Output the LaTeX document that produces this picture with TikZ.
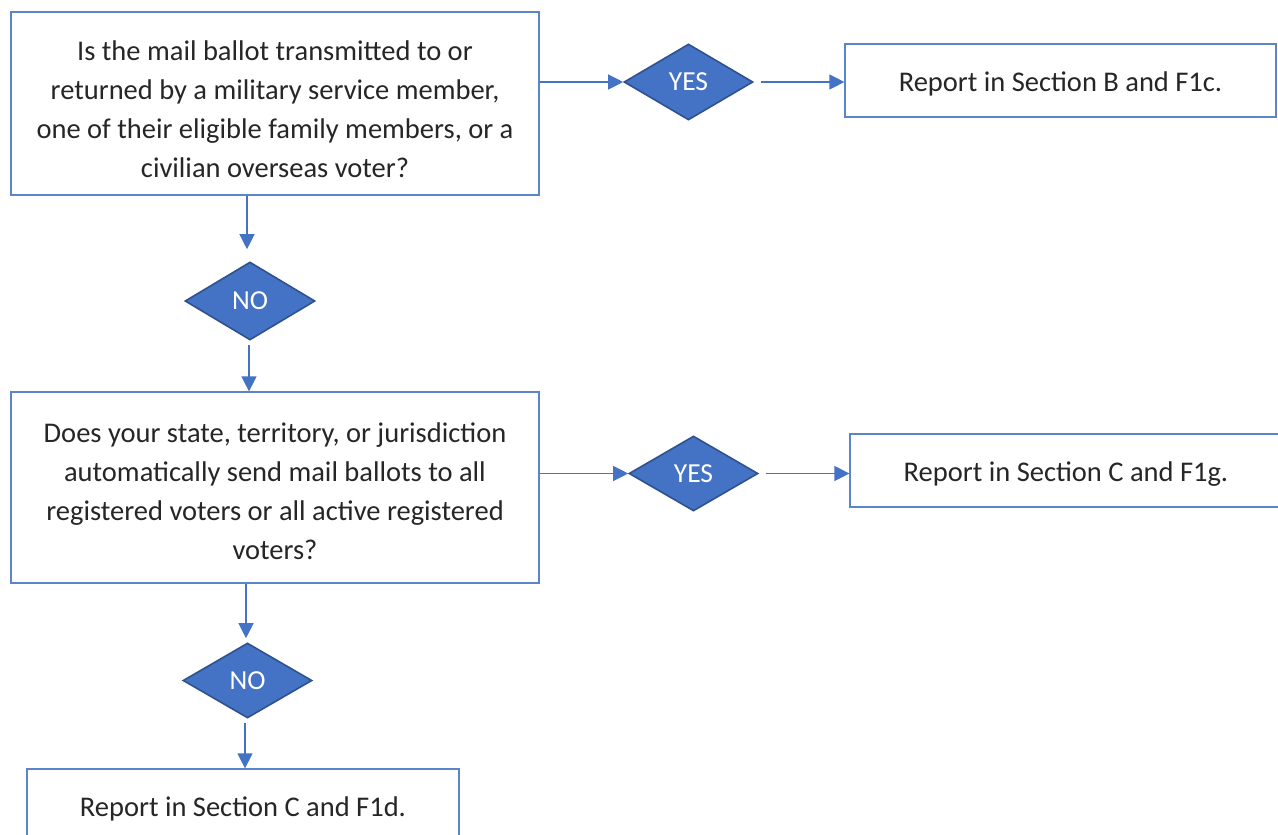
\documentclass[tikz,border=0pt]{standalone}
\usepackage{fontspec}
\setmainfont{Carlito}
\usetikzlibrary{shapes.geometric,arrows.meta}

\definecolor{flowblue}{HTML}{4472C4}
\definecolor{flowedge}{HTML}{2F528F}
\definecolor{boxedge}{HTML}{5B84CC}
\definecolor{inktext}{HTML}{262626}

\tikzset{
	question/.style={draw=boxedge, line width=1.2pt, rectangle, inner sep=0pt},
	qtext/.style={align=center, text=inktext, inner sep=0pt,
		font=\fontsize{28.5}{39}\selectfont},
	answer/.style={draw=flowedge, line width=1.6pt, fill=flowblue, diamond,
		inner sep=0pt, text=white, font=\fontsize{27.5}{30}\selectfont},
	report/.style={draw=boxedge, line width=1.2pt, rectangle,
		text=inktext, inner sep=0pt, text height=28pt, text depth=6pt,
		font=\fontsize{28.5}{34}\selectfont},
	arr/.style={draw=flowblue, line width=1.2pt,
		-{Triangle[length=15pt,width=15pt]}}
}

\begin{document}
\begin{tikzpicture}[x=1pt,y=-1pt]

\clip (0,0) rectangle (1278,835);
\fill [white] (0,0) rectangle (1278,835);

% first question
\node [question, minimum width=528pt, minimum height=183pt] (q1) at (275,103.5) {};
\node [qtext] (q1text) at ([yshift=-5.5pt]q1.center)
	{Is the mail ballot transmitted to or\\
	returned by a military service member,\\
	one of their eligible family members, or a\\
	civilian overseas voter?};
\node [answer, minimum width=129pt, minimum height=76pt] (yes1) at (688.5,82) {YES};
\node [report, minimum width=431pt, minimum height=73pt] (rb) at (1060.5,80.5)
	{Report in Section B and F1c.};
\node [answer, minimum width=130pt, minimum height=78pt] (no1) at (250,301) {NO};

% second question
\node [question, minimum width=528pt, minimum height=191pt] (q2) at (275,487.5) {};
\node [qtext] (q2text) at ([yshift=-4pt]q2.center)
	{Does your state, territory, or jurisdiction\\
	automatically send mail ballots to all\\
	registered voters or all active registered\\
	voters?};
\node [answer, minimum width=129pt, minimum height=75pt] (yes2) at (693.5,473.5) {YES};
\node [report, minimum width=432pt, minimum height=73pt] (rc) at (1066,470.5)
	{Report in Section C and F1g.};
\node [answer, minimum width=129pt, minimum height=75pt] (no2) at (247.5,680.5) {NO};
\node [report, minimum width=432pt, minimum height=72pt] (rd) at (243,805)
	{Report in Section C and F1d.};

% yes branches
\draw [arr] (q1.east |- yes1) -- (yes1.west);
\draw [arr, shorten <=7pt] (yes1.east) -- (rb.west |- yes1);
\draw [arr] (q2.east |- yes2) -- (yes2.west);
\draw [arr, shorten <=7pt] (yes2.east) -- (rc.west |- yes2);

% no branches
\draw [arr, shorten >=12pt] ([xshift=-3pt]no1.north |- q1.south) -- ([xshift=-3pt]no1.north);
\draw [arr, shorten <=4pt] ([xshift=-1pt]no1.south) -- ([xshift=-1pt]no1.south |- q2.north);
\draw [arr, shorten >=4pt] ([xshift=-1.5pt]no2.north |- q2.south) -- ([xshift=-1.5pt]no2.north);
\draw [arr, shorten <=4pt] ([xshift=-2.5pt]no2.south) -- ([xshift=-2.5pt]no2.south |- rd.north);

\end{tikzpicture}
\end{document}
